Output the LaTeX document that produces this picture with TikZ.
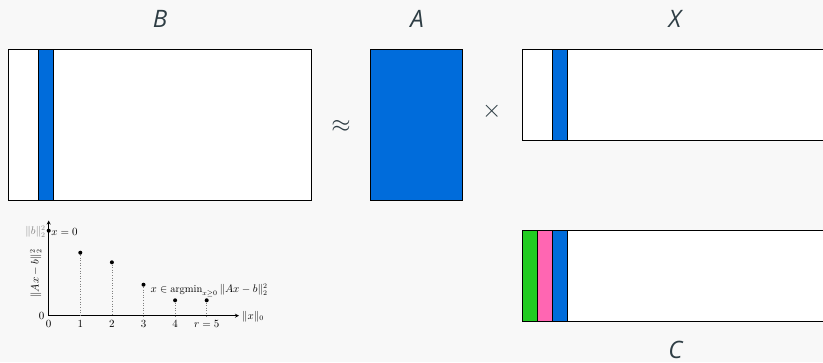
\documentclass[tikz,border=0pt]{standalone}
\usepackage{amsmath}
\usepackage{fontspec}
\newfontfamily\lblfont{Open Sans}
\definecolor{bgcol}{RGB}{248,248,248}
\definecolor{inkcol}{RGB}{46,61,68}
\definecolor{colblue}{RGB}{0,108,219}
\definecolor{colgreen}{RGB}{34,204,34}
\definecolor{colpink}{RGB}{255,102,178}
\tikzset{
  matbox/.style={draw=black, line width=1pt, fill=white},
  colbox/.style={draw=black, line width=1pt},
  matlabel/.style={text=inkcol, font=\lblfont\itshape\fontsize{24}{28}\selectfont, inner sep=0pt},
  opsym/.style={text=inkcol, inner sep=0pt},
  plotaxis/.style={line width=0.8pt, ->, >=stealth},
  ptdot/.style={fill=black, circle, inner sep=0pt, minimum size=4pt},
  guide/.style={gray, dotted, line width=0.6pt},
  plottxt/.style={font=\fontsize{10.5}{12}\selectfont, inner sep=0pt},
}
\begin{document}
\begin{tikzpicture}[x=1pt, y=-1pt]
  \useasboundingbox (0,0) rectangle (823,362);
  \clip (0,0) rectangle (823,362);
  \fill[bgcol] (0,0) rectangle (823,362);

  % matrix B with one highlighted column
  \draw[matbox] (8,49) rectangle (311,200);
  \draw[colbox, fill=colblue] (38.3,49) rectangle (53.3,200);
  \node[matlabel] (lB) at (160,19) {B};

  % approximation sign
  \node[opsym, font=\fontsize{26}{30}\selectfont] (approx) at (341,126) {$\approx$};

  % dictionary A
  \draw[colbox, fill=colblue] (370.7,49) rectangle (462.3,200);
  \node[matlabel] (lA) at (417,19) {A};

  % product sign
  \node[opsym, font=\fontsize{24}{28}\selectfont] (times) at (491.7,111) {$\times$};

  % coefficients X
  \draw[matbox] (522.3,49) rectangle (825.3,140);
  \draw[colbox, fill=colblue] (552.3,49) rectangle (567.3,140);
  \node[matlabel] (lX) at (675,19) {X};

  % coefficients C
  \draw[matbox] (522.3,230.7) rectangle (825.3,321.7);
  \draw[colbox, fill=colgreen] (522.3,230.7) rectangle (537.3,321.7);
  \draw[colbox, fill=colpink] (537.3,230.7) rectangle (552.3,321.7);
  \draw[colbox, fill=colblue] (552.3,230.7) rectangle (567.3,321.7);
  \node[matlabel] (lC) at (675.5,350) {C};

  % residual against sparsity
  \coordinate (O) at (48.7,315.7);
  \coordinate (xend) at (239,315.7);
  \coordinate (yend) at (48.7,220.5);
  \draw[plotaxis] (O) -- (xend);
  \draw[plotaxis] (O) -- (yend);

  \node[ptdot] (p0) at (48.7,230.7) {};
  \node[ptdot] (p1) at (80.3,252.7) {};
  \node[ptdot] (p2) at (111.9,262.3) {};
  \node[ptdot] (p3) at (143.5,284.7) {};
  \node[ptdot] (p4) at (175.1,300.3) {};
  \node[ptdot] (p5) at (206.7,300.3) {};

  \coordinate (b1) at (80.3,315.7);
  \coordinate (b2) at (111.9,315.7);
  \coordinate (b3) at (143.5,315.7);
  \coordinate (b4) at (175.1,315.7);
  \coordinate (b5) at (206.7,315.7);
  \draw[guide] (p1) -- (b1);
  \draw[guide] (p2) -- (b2);
  \draw[guide] (p3) -- (b3);
  \draw[guide] (p4) -- (b4);
  \draw[guide] (p5) -- (b5);

  \node[plottxt, anchor=base] (t0) at (48.7,327.3) {$0$};
  \node[plottxt, anchor=base] (t1) at (80.3,327.3) {$1$};
  \node[plottxt, anchor=base] (t2) at (111.9,327.3) {$2$};
  \node[plottxt, anchor=base] (t3) at (143.5,327.3) {$3$};
  \node[plottxt, anchor=base] (t4) at (175.1,327.3) {$4$};
  \node[plottxt, anchor=base] (t5) at (206.7,327.3) {$r=5$};
  \node[plottxt, anchor=base east] (y0) at (44.6,319) {$0$};
  \node[plottxt, anchor=west] (xlab) at (242,316.5) {$\|x\|_0$};
  \node[plottxt, rotate=90] (ylab) at (35.7,273.5) {$\|Ax-b\|_2^2$};
  \node[plottxt, anchor=east, text=gray] (bnorm) at (45.8,231.5) {$\|b\|_2^2$};
  \node[plottxt, anchor=west] (zero) at (51.2,231.5) {$x=0$};
  \node[plottxt, anchor=base west] (argmin) at (150.5,292.7)
    {$x\in\operatorname{argmin}_{x\geq 0}\|Ax-b\|_2^2$};
\end{tikzpicture}
\end{document}
